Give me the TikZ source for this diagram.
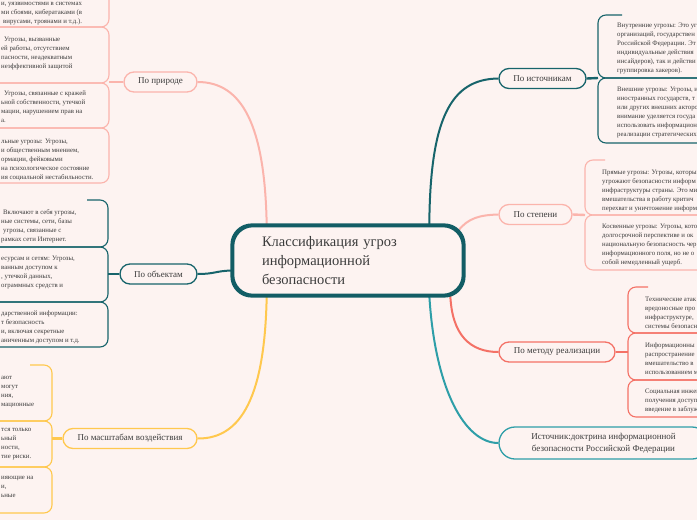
\documentclass[tikz,border=0pt]{standalone}
\usepackage{fontspec}
\setmainfont{Liberation Serif}
\definecolor{bgc}{HTML}{FDF3F1}
\definecolor{pinkc}{HTML}{FBB4AC}
\definecolor{tealc}{HTML}{17646B}
\definecolor{tealD}{HTML}{125D65}
\definecolor{yelc}{HTML}{FFC84E}
\definecolor{redc}{HTML}{F47166}
\definecolor{tealL}{HTML}{2E9EA8}
\definecolor{txt}{HTML}{3C3C3C}
\tikzset{
  leaf/.style={anchor=north west, inner sep=0pt, align=left, text=txt, font=\fontsize{6.8}{8.9}\selectfont},
  branch/.style={draw, line width=1.3pt, rounded corners=10pt, fill=bgc, minimum height=20pt, inner sep=0pt, text=txt, font=\fontsize{9}{11}\selectfont},
  con/.style={line width=2pt},
  stub/.style={line width=2.4pt},
  br/.style={line width=1.1pt, rounded corners=8pt},
}
\begin{document}
\begin{tikzpicture}[x=1pt,y=-1pt]
\fill[bgc] (0,0) rectangle (697,520);
\useasboundingbox (0,0) rectangle (697,520);
\clip (0,0) rectangle (697,520);

% ---- leaf brackets ----
% Po prirode (left, pink)
\draw[br,pinkc] (-5,-20) -- (109,-20) -- (109,27) -- (-5,27);
\draw[br,pinkc] (-5,27) -- (109,27) -- (109,83) -- (-5,83);
\draw[br,pinkc] (-5,83) -- (109,83) -- (109,128) -- (-5,128);
\draw[br,pinkc] (-5,128) -- (109,128) -- (109,183) -- (-5,183);
% Po obektam (left, teal)
\draw[br,tealc] (87,200) -- (108,200) -- (108,247) -- (-5,247);
\draw[br,tealc] (-5,247) -- (108,247) -- (108,302) -- (-5,302);
\draw[br,tealc] (-5,302) -- (108,302) -- (108,347) -- (-5,347);
% Po masshtabam (left, yellow)
\draw[br,yelc] (30,365) -- (52,365) -- (52,421) -- (-5,421);
\draw[br,yelc] (-5,421) -- (52,421) -- (52,467) -- (-5,467);
\draw[br,yelc] (-5,467) -- (52,467) -- (52,513) -- (-5,513);
% Po istochnikam (right, teal)
\draw[br,tealc] (622,15) -- (598,15) -- (598,78) -- (705,78);
\draw[br,tealc] (705,78) -- (598,78) -- (598,143) -- (705,143);
% Po stepeni (right, pink)
\draw[br,pinkc] (605,160) -- (585,160) -- (585,215) -- (705,215);
\draw[br,pinkc] (705,215) -- (585,215) -- (585,270) -- (705,270);
% Po metodu (right, red)
\draw[br,redc] (648,287) -- (628,287) -- (628,333) -- (705,333);
\draw[br,redc] (705,333) -- (628,333) -- (628,380) -- (705,380);
\draw[br,redc] (705,380) -- (628,380) -- (628,417) -- (705,417);

% ---- bracket join points ----
\coordinate (natV) at (109,82);
\coordinate (objV) at (108,274);
\coordinate (scaleV) at (52,438.5);
\coordinate (srcV) at (598,78);
\coordinate (degV) at (585,215);
\coordinate (methV) at (628,352);

% ---- central node ----
\node[draw=tealD, line width=2.6pt, rounded corners=20pt, fill=bgc,
      minimum width=230pt, minimum height=69pt, inner xsep=29pt, inner ysep=0pt,
      text width=172pt, align=left, text=txt,
      font=\fontsize{14.5}{19}\selectfont] (c) at (348,260.5)
      {Классификация угроз\\информационной\\безопасности};

% ---- branch nodes ----
\node[branch, draw=pinkc, minimum width=73pt] (nat) at (160.5,82) {По природе};
\node[branch, draw=tealc, minimum width=77pt] (obj) at (158.5,274) {По объектам};
\node[branch, draw=yelc, minimum width=134pt] (scale) at (130,438.5) {По масштабам воздействия};
\node[branch, draw=tealc, minimum width=87pt] (src) at (542.5,78.5) {По источникам};
\node[branch, draw=pinkc, minimum width=73pt] (deg) at (535.5,214.5) {По степени};
\node[branch, draw=redc, minimum width=116pt] (meth) at (557,352) {По методу реализации};
\node[branch, draw=tealL, minimum width=209pt, minimum height=32pt, rounded corners=16pt,
      align=center, font=\fontsize{9}{12}\selectfont] (doc) at (603.5,443)
      {Источник:доктрина информационной\\безопасности Российской Федерации};

% ---- main connectors ----
\draw[con,pinkc] ([xshift=35pt,yshift=-1pt]c.north west) .. controls (265,125) and (242,82) .. (nat.east);
\draw[con,yelc] ([xshift=35pt,yshift=1pt]c.south west) .. controls (265,395) and (242,439) .. (scale.east);
\draw[con,tealc] ([yshift=-10pt]c.west) .. controls (215,271) and (215,274) .. (obj.east);
\draw[con,tealc] ([xshift=-35pt,yshift=-1pt]c.north east) .. controls (430,120) and (450,79) .. (src.west);
\draw[con,pinkc] ([xshift=-6pt,yshift=-6pt]c.north east) .. controls (468,218) and (480,215) .. (deg.west);
\draw[con,redc] ([xshift=-14pt,yshift=1pt]c.south east) .. controls (452,335) and (470,352) .. (meth.west);
\draw[con,tealL] ([xshift=-35pt,yshift=1pt]c.south east) .. controls (435,390) and (465,443) .. (doc.west);

% redraw central box border on top of connector ends
\draw[tealD, line width=2.6pt, rounded corners=20pt] (c.north west) rectangle (c.south east);

% ---- stubs from branches to brackets ----
\draw[stub,pinkc] (nat.west) -- (natV);
\draw[stub,tealc] (obj.west) -- (objV);
\draw[stub,yelc] (scale.west) -- (scaleV);
\draw[stub,tealc] (src.east) -- (srcV);
\draw[stub,pinkc] (deg.east) -- (degV);
\draw[stub,redc] (meth.east) -- (methV);

% ---- leaf texts ----
\node[leaf] (lA) at (1,-0.7) {\strut и, уязвимостями в системах\\ми сбоями, кибератаками (в\\\hspace*{2pt}вирусами, троянами и т.д.).};
\node[leaf] (lB) at (1,35.3) {\strut\hspace*{3pt}Угрозы, вызванные\\ей работы, отсутствием\\пасности, неадекватным\\неэффективной защитой};
\node[leaf] (lC) at (1,89.3) {\strut\hspace*{3pt}Угрозы, связанные с кражей\\ьной собственности, утечкой\\мации, нарушением прав на\\а.};
\node[leaf] (lD) at (1,137.3) {\strut льные угрозы: Угрозы,\\и общественным мнением,\\ормации, фейковыми\\на психологическое состояние\\ия социальной нестабильности.};
\node[leaf] (lE) at (1,208.3) {\strut\hspace*{2pt}Включают в себя угрозы,\\ные системы, сети, базы\\\hspace*{2pt}угрозы, связанные с\\рамках сети Интернет.};
\node[leaf] (lF) at (1,254.3) {\strut есурсам и сетям: Угрозы,\\ванным доступом к\\, утечкой данных,\\ограммных средств и};
\node[leaf] (lG) at (1,309.3) {\strut дарственной информации:\\т безопасность\\и, включая секретные\\аниченным доступом и т.д.};
\node[leaf] (lH) at (1,373.3) {\strut ают\\могут\\ния,\\мационные};
\node[leaf] (lI) at (1,425.3) {\strut тся только\\ьный\\ности,\\тие риски.};
\node[leaf] (lJ) at (1,473.3) {\strut ияющие на\\и,\\ьные};

\node[leaf] (lK) at (617,21.3) {\strut Внутренние угрозы: Это уг\\организаций, государствен\\Российской Федерации. Эт\\индивидуальные действия\\инсайдеров), так и действи\\группировка хакеров).};
\node[leaf] (lL) at (617,85.3) {\strut Внешние угрозы: Угрозы, и\\иностранных государств, т\\или других внешних акторо\\внимание уделяется госуда\\использовать информацион\\реализации стратегических};
\node[leaf] (lM) at (602,168.3) {\strut Прямые угрозы: Угрозы, которы\\угрожают безопасности информ\\инфраструктуры страны. Это ми\\вмешательства в работу критич\\перехват и уничтожение информ};
\node[leaf] (lN) at (602,222.3) {\strut Косвенные угрозы: Угрозы, кото\\долгосрочной перспективе и ок\\национальную безопасность чер\\информационного поля, но не о\\собой немедленный ущерб.};
\node[leaf] (lP) at (645,295.3) {\strut Технические атак\\вредоносные про\\инфраструктуре,\\системы безопасн};
\node[leaf] (lQ) at (645,341.3) {\strut Информационны\\распространение\\вмешательство в\\использованием м};
\node[leaf] (lR) at (645,387.3) {\strut Социальная инжен\\получения доступ\\введение в заблуж};
\end{tikzpicture}
\end{document}
